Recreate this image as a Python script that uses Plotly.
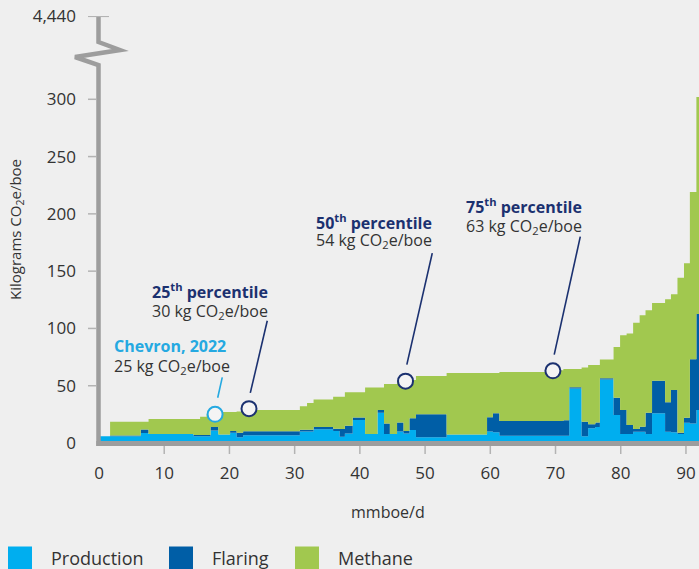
import plotly.graph_objects as go

# ---------------- data ----------------
# cumulative production boundaries of each asset, mmboe/d
segment_edges = [0, 1.7, 6.4, 7.6, 14.5, 15.5, 16.5, 17.1, 18.3, 20.1, 21.1, 22.1, 24.2,
                 30.8, 31.9, 32.9, 35.9, 36.9, 37.7, 38.9, 40.8, 42.7, 43.7, 44.6, 45.7,
                 46.7, 47.6, 48.6, 53.3, 59.5, 60.4, 61.4, 69.7, 71.2, 72.1, 74.0, 75.0,
                 76.1, 76.8, 78.9, 79.9, 80.9, 81.9, 82.9, 83.8, 84.8, 86.8, 87.7, 88.7,
                 89.7, 90.6, 91.6, 92.0]
# intensities, kg CO2e/boe
production = [6, 6, 8.7, 7.8, 6, 6, 6, 11, 7.5, 9, 5, 6.8, 6.8,
              10, 10, 12, 10.5, 5.5, 8.4, 20, 7.8, 26.4, 7.8, 7.8, 10,
              8.4, 11.3, 5, 7.5, 10, 9.3, 6.4, 6.4, 6.4, 47.6, 6, 12.8,
              14, 55.5, 24.4, 7.8, 7.8, 9.9, 9.9, 7.8, 25.9, 9.9, 9.3, 7.8,
              17.7, 17, 28.7]
flaring = [0, 0.5, 3, 0, 1, 1, 1, 3, 0, 1.5, 4, 3.5, 3.5,
           1.5, 1.5, 2, 2, 6.7, 6.7, 2.3, 0, 2.3, 9.3, 0, 8,
           2, 10.2, 20, 0, 12.5, 16.6, 12.8, 12.8, 13.5, 1, 12.5, 3.5,
           4, 1, 15, 21, 8, 2.3, 4.3, 18.6, 28.4, 25.6, 37, 1.2,
           4.3, 56, 84]
methane = [0, 12.1, 6.9, 13.2, 14, 16, 18, 11, 19.5, 16.5, 18.5, 17.7, 18.4,
           20.5, 23.5, 24, 27.8, 28.1, 29.1, 21.9, 40.7, 19.8, 34.3, 43.6, 36.9,
           44.5, 33.4, 33.4, 53.7, 38.7, 35.3, 42.8, 44.4, 44.6, 15.9, 47.5, 51.7,
           50, 16.4, 44.5, 65.2, 79.7, 92.8, 97.3, 89.5, 67.9, 89.9, 83.5, 135.3,
           135, 146, 4327.3]

# reference points
marker_names = ["Chevron, 2022", "25<sup>th</sup> percentile",
                "50<sup>th</sup> percentile", "75<sup>th</sup> percentile"]
marker_values = ["25 kg CO<sub>2</sub>e/boe", "30 kg CO<sub>2</sub>e/boe",
                 "54 kg CO<sub>2</sub>e/boe", "63 kg CO<sub>2</sub>e/boe"]
marker_x = [17.8, 23.0, 47.0, 69.6]
marker_y = [25, 30, 54, 63]

x_ticks = [0, 10, 20, 30, 40, 50, 60, 70, 80, 90]
y_ticks = [0, 50, 100, 150, 200, 250, 300]
y_break_label = "4,440"

# ---------------- styling ----------------
FONT = "Open Sans"
BG = "#efefef"
C_PROD = "#00aeef"
C_FLARE = "#005ea6"
C_METH = "#a1c84f"
C_NAVY = "#1b3170"
C_LBLUE = "#25a9e1"
C_TEXT = "#333333"
C_AXIS = "#9d9d9d"
C_TICK = "#b3b3b3"

W, H = 699, 569
SX0, SX1, SY0, SY1 = 99, 699, 443, 16          # plot area in window pixels
L, R, T, B = SX0, W - SX1, SY1, H - SY0
PW, PH = SX1 - SX0, SY0 - SY1
X_MAX = 92.0
Y_TOP = 372.4          # axis position of the 4,440 break label
Y_CAP = 302            # bars beyond the break are drawn up to here


def px(xs):
    return (xs - SX0) / PW


def py(ys):
    return (SY0 - ys) / PH


# clip values beyond the axis break
meth_disp = [min(m, Y_CAP - p - f) for p, f, m in zip(production, flaring, methane)]

fig = go.Figure()
for name, vals, col in [("Production", production, C_PROD),
                        ("Flaring", flaring, C_FLARE),
                        ("Methane", meth_disp, C_METH)]:
    fig.add_trace(go.Scatter(
        x=segment_edges, y=vals + [vals[-1]], name=name, mode="lines",
        stackgroup="one", line=dict(width=0, shape="hv"), fillcolor=col,
        hoverinfo="skip", showlegend=False))

# markers
fig.add_trace(go.Scatter(
    x=marker_x, y=marker_y, mode="markers", showlegend=False, hoverinfo="skip",
    marker=dict(size=15, color="#f4f4f4",
                line=dict(width=2, color=[C_LBLUE, C_NAVY, C_NAVY, C_NAVY]))))

shapes = []
# leader lines (data coords)
leaders = [((18.2, 39.5), (18.9, 57.3), C_LBLUE),
           ((23.2, 43.7), (25.8, 106.7), C_NAVY),
           ((47.2, 68.4), (51.1, 165.7), C_NAVY),
           ((69.8, 77.1), (73.8, 180.1), C_NAVY)]
for (x0, y0), (x1, y1), c in leaders:
    shapes.append(dict(type="line", xref="x", yref="y", x0=x0, y0=y0, x1=x1, y1=y1,
                       line=dict(color=c, width=1.6)))

# y-axis line with break
path = "M {} {} L {} {} L {} {} L {} {} L {} {} L {} {}".format(
    px(98.5), py(16), px(98.5), py(42), px(120), py(50), px(75), py(57),
    px(98.5), py(65), px(98.5), py(446))
shapes.append(dict(type="path", xref="paper", yref="paper", path=path,
                   line=dict(color=C_AXIS, width=4.5), layer="above"))
# x-axis line
shapes.append(dict(type="line", xref="paper", yref="paper", x0=px(96.3), x1=px(699),
                   y0=py(443.5), y1=py(443.5), line=dict(color=C_AXIS, width=5),
                   layer="above"))
# y ticks
for v in y_ticks[1:]:
    shapes.append(dict(type="line", xref="paper", yref="y", x0=px(88), x1=px(96),
                       y0=v, y1=v, line=dict(color=C_TICK, width=1.5)))
shapes.append(dict(type="line", xref="paper", yref="y", x0=px(88), x1=px(109),
                   y0=Y_TOP, y1=Y_TOP, line=dict(color=C_TICK, width=1.5)))
# x ticks
for v in x_ticks[1:]:
    shapes.append(dict(type="line", xref="x", yref="paper", x0=v, x1=v,
                       y0=py(446), y1=py(454), line=dict(color=C_TICK, width=1.5)))

# legend
legend_items = [("Production", C_PROD, 8, 49), ("Flaring", C_FLARE, 169, 210),
                ("Methane", C_METH, 295, 336)]
annotations = []
for name, col, sx, tx in legend_items:
    shapes.append(dict(type="rect", xref="paper", yref="paper", x0=px(sx), x1=px(sx + 24),
                       y0=py(546.5), y1=py(572), fillcolor=col, line=dict(width=0)))
    annotations.append(dict(text=name, xref="paper", yref="paper", x=px(tx), y=py(558),
                            xanchor="left", yanchor="middle", showarrow=False,
                            font=dict(family=FONT, size=18, color=C_TEXT)))

# labels
label_pos = [(C_LBLUE, 112, 345.5, 366),
             (C_NAVY, 150, 290.5, 311),
             (C_NAVY, 314, 221.5, 241),
             (C_NAVY, 464, 206, 226)]
for head, sub, (col, lx, hy, sy) in zip(marker_names, marker_values, label_pos):
    annotations.append(dict(text="<b>" + head + "</b>", xref="paper", yref="paper",
                            x=px(lx), y=py(hy), xanchor="left", yanchor="middle",
                            showarrow=False, font=dict(family=FONT, size=16, color=col)))
    annotations.append(dict(text=sub, xref="paper", yref="paper",
                            x=px(lx), y=py(sy), xanchor="left", yanchor="middle",
                            showarrow=False, font=dict(family=FONT, size=16, color=C_TEXT)))

# axis titles
annotations.append(dict(text="Kilograms CO<sub>2</sub>e/boe", xref="paper", yref="paper",
                        x=px(16), y=py(230), textangle=-90, xanchor="center",
                        yanchor="middle", showarrow=False,
                        font=dict(family=FONT, size=15, color=C_TEXT)))
annotations.append(dict(text="mmboe/d", xref="paper", yref="paper",
                        x=px(388), y=py(512), xanchor="center", yanchor="middle",
                        showarrow=False, font=dict(family=FONT, size=16, color=C_TEXT)))

fig.update_layout(
    width=W, height=H, margin=dict(l=L, r=R, t=T, b=B, pad=0),
    paper_bgcolor=BG, plot_bgcolor=BG, showlegend=False,
    font=dict(family=FONT, color=C_TEXT),
    shapes=shapes, annotations=annotations,
    xaxis=dict(range=[0, X_MAX], tickvals=x_ticks, ticks="", showline=False,
               showgrid=False, zeroline=False, fixedrange=True,
               tickfont=dict(family=FONT, size=17, color=C_TEXT),
               ticklabelstandoff=18, ticklabeloverflow="allow"),
    yaxis=dict(range=[0, Y_TOP + 0.3], tickvals=y_ticks + [Y_TOP],
               ticktext=[str(v) for v in y_ticks] + [y_break_label], ticks="",
               showline=False, showgrid=False, zeroline=False, fixedrange=True,
               tickfont=dict(family=FONT, size=17, color=C_TEXT),
               ticklabelstandoff=22, ticklabeloverflow="allow"),
)

# remove the default page margin so the figure fills the window
page_css = ("document.body.style.margin='0';"
            "document.body.style.background='" + BG + "';"
            "document.body.style.overflow='hidden';")
fig.write_html("out.html", post_script=page_css,
               config={"displayModeBar": False, "staticPlot": True})
